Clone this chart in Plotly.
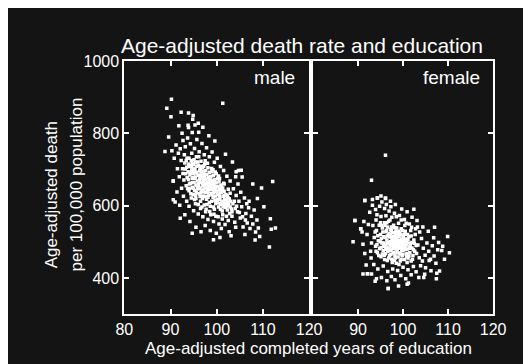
import plotly.graph_objects as go

# ---------------- data ----------------
male_points = [
    (92.6,702),(92.9,671),(93.1,718),(93.3,688),(93.4,655),(93.6,731),(93.8,694),(93.9,672),(94.0,641),(94.1,709),
    (94.2,685),(94.3,662),(94.5,725),(94.6,698),(94.7,676),(94.8,651),(94.9,631),(95.0,713),(95.0,688),(95.1,664),
    (95.2,642),(95.3,701),(95.4,679),(95.5,657),(95.5,620),(95.6,735),(95.7,692),(95.8,668),(95.9,646),(96.0,711),
    (96.0,684),(96.1,659),(96.2,633),(96.3,697),(96.3,672),(96.4,649),(96.5,612),(96.6,723),(96.6,688),(96.7,665),
    (96.8,641),(96.9,704),(96.9,676),(97.0,655),(97.0,627),(97.1,690),(97.2,668),(97.2,644),(97.3,602),(97.4,715),
    (97.4,681),(97.5,659),(97.5,636),(97.6,697),(97.7,672),(97.7,650),(97.8,618),(97.9,686),(98.0,663),(98.0,640),
    (98.1,705),(98.2,677),(98.2,654),(98.3,629),(98.4,692),(98.5,668),(98.5,645),(98.6,598),(98.7,681),(98.8,657),
    (98.8,634),(98.9,612),(99.0,694),(99.1,670),(99.1,648),(99.2,623),(99.3,683),(99.4,660),(99.4,637),(99.5,590),
    (99.6,672),(99.7,650),(99.7,627),(99.8,606),(99.9,688),(100.0,663),(100.0,640),(100.1,617),(100.2,676),(100.3,653),
    (100.3,631),(100.4,596),(100.5,667),(100.6,644),(100.7,621),(100.8,603),(100.9,657),(101.0,636),(101.1,612),(101.2,585),
    (101.3,649),(101.4,626),(101.5,604),(101.6,640),(101.7,618),(101.8,595),(102.0,631),(102.1,609),(102.3,588),(102.4,622),
    (102.6,600),(102.8,578),(103.0,612),(103.2,591),
    (93.5,706),(94.4,690),(95.3,676),(96.2,667),(97.1,639),(98.3,661),(99.0,630),(99.8,641),(100.6,628),(101.4,611),
    (94.9,701),(95.8,655),(96.5,681),(97.6,625),(98.6,675),(99.5,652),(100.2,608),(101.9,603),(96.8,694),(97.9,648),
    (95.1,727),(96.4,702),(97.3,685),(98.9,666),(100.8,640),(102.2,614),(94.1,660),(95.6,636),(96.9,620),(98.4,609),
    (93.0,741),(94.6,745),(95.9,721),(97.2,709),(99.2,699),(100.4,682),(101.6,660),(102.9,634),(103.5,605),(104.0,592),
    (92.7,689),(93.2,701),(93.6,677),(93.9,715),(94.2,648),(94.5,707),(94.8,664),(95.1,694),(95.4,629),(95.7,709),
    (96.0,652),(96.3,682),(96.6,637),(96.9,663),(97.2,693),(97.5,674),(97.8,661),(98.1,636),(98.4,677),(98.7,646),
    (99.0,661),(99.3,641),(99.6,615),(99.9,652),(100.2,631),(100.5,618),(100.8,590),(101.1,645),(101.4,597),(101.7,629),
    (102.0,598),(102.3,627),(102.6,609),(102.9,596),(103.3,583),(103.8,612),(104.3,598),(104.9,581),(105.6,569),(106.2,560),
    (93.4,725),(94.0,731),(94.7,717),(95.4,720),(96.1,735),(96.7,709),(97.5,724),(98.0,717),(98.9,703),(99.7,693),
    (100.6,675),(101.5,662),(102.5,645),(93.7,647),(94.4,633),(95.2,617),(96.0,603),(96.8,596),(97.7,590),(98.5,584),
    (99.4,576),(100.3,569),(101.3,575),(102.1,571),(95.0,648),(96.4,625),(97.9,603),(99.3,596),(100.9,606),(94.3,711),
    (95.6,690),(96.8,679),(98.6,651),(99.8,664),(101.0,650),(102.7,619),(97.3,654),(98.1,623),(96.1,648),(94.9,677),
    (90.3,752),(90.8,731),(91.2,768),(91.5,702),(91.7,745),(91.9,680),(92.1,757),(92.3,725),(92.4,648),(92.7,780),
    (92.8,626),(93.2,763),(93.5,612),(93.7,787),(94.0,598),(94.3,771),(94.5,621),(94.7,802),(95.0,586),(95.2,758),
    (95.4,605),(95.7,783),(96.0,577),(96.2,749),(96.5,592),(96.8,772),(97.0,569),(97.3,741),(97.6,583),(97.8,760),
    (98.1,562),(98.4,735),(98.7,575),(99.0,748),(99.3,556),(99.5,720),(99.8,571),(100.1,731),(100.5,549),(100.8,708),
    (101.2,563),(101.5,697),(101.8,548),(102.2,681),(102.5,559),(102.9,668),(103.3,571),(103.6,647),(103.9,554),(104.2,628),
    (104.5,583),(104.8,612),(105.1,566),(105.4,597),(105.7,541),(106.0,621),(106.3,578),(106.6,552),(106.9,594),(107.2,537),
    (107.5,571),(107.8,549),(108.1,588),(108.4,527),(108.7,560),(109.0,538),(109.3,515),(105.2,637),(106.5,605),(104.6,660),
    (91.0,610),(91.4,638),(90.6,668),(92.0,601),(93.1,575),(94.2,556),(95.5,540),(96.6,528),(97.5,545),(98.6,531),
    (99.9,524),(101.0,537),(102.7,528),(104.1,540),(103.1,517),(100.7,512),(96.1,803),(97.0,817),(95.3,823),(93.9,816),
    (98.3,793),(99.6,779),(92.5,800),(94.8,839),(91.8,821),(101.9,742),(103.4,721),(104.7,697),(105.5,679),(107.0,612),
    (90.2,894),(89.2,869),(90.1,846),(92.3,858),(93.9,856),(94.9,849),(101.3,883),(96.0,828),(93.8,822),(88.8,750),
    (112.1,667),(109.7,649),(111.4,486),(111.6,564),(111.8,535),(112.7,538),(104.2,694),(105.3,698),(104.1,680),(99.3,506),
    (94.7,524),(92.1,565),(90.6,616),(90.6,668),(108.8,620),(110.2,597),(107.8,660),(89.6,790),(108.3,505),(106.1,520),
]

female_points = [
    (93.6,512),(93.9,488),(94.1,531),(94.3,470),(94.5,503),(94.7,546),(94.8,481),(95.0,520),(95.1,459),(95.3,497),
    (95.4,538),(95.6,476),(95.7,514),(95.9,553),(96.0,490),(96.1,467),(96.2,528),(96.4,505),(96.5,448),(96.6,541),
    (96.7,483),(96.8,518),(97.0,462),(97.0,499),(97.1,560),(97.2,534),(97.3,476),(97.4,511),(97.5,452),(97.6,493),
    (97.7,526),(97.8,470),(97.9,546),(98.0,505),(98.1,484),(98.2,461),(98.3,521),(98.4,497),(98.5,441),(98.6,538),
    (98.7,478),(98.8,512),(98.9,458),(99.0,491),(99.1,529),(99.2,469),(99.3,503),(99.4,447),(99.5,485),(99.6,519),
    (99.8,462),(99.9,496),(100.0,475),(100.1,512),(100.3,451),(100.4,488),(100.5,529),(100.7,466),(100.8,500),(101.0,480),
    (101.1,455),(101.3,514),(101.5,470),(101.6,493),(101.8,447),(102.0,483),(102.2,462),(102.4,505),(102.6,474),(102.9,490),
    (94.2,492),(95.2,509),(96.3,486),(97.2,500),(98.2,493),(99.2,482),(100.2,497),(96.9,523),(98.0,470),(99.7,508),
    (95.5,527),(96.6,473),(97.8,515),(98.6,487),(99.4,466),(100.6,479),(94.9,500),(96.0,545),(97.4,489),(98.9,502),
    (95.8,463),(97.1,481),(98.4,529),(99.8,490),(101.2,497),(93.8,527),(95.0,553),(96.8,557),(97.9,487),(98.3,455),
    (94.6,462),(95.9,451),(97.6,443),(99.1,437),(100.9,443),(102.1,452),(103.0,468),(103.3,491),(103.6,456),(102.7,520),
    (101.7,531),(100.4,545),(99.0,551),(97.5,568),(96.2,572),(95.1,570),(94.0,560),(93.3,545),(93.0,497),(92.8,474),
    (94.4,517),(95.1,484),(95.6,497),(96.0,512),(96.3,532),(96.7,496),(97.0,477),(97.3,521),(97.6,507),(97.9,498),
    (98.2,512),(98.5,480),(98.8,495),(99.1,514),(99.4,499),(99.7,476),(100.1,485),(100.5,508),(100.9,468),(101.4,482),
    (95.3,545),(96.4,553),(97.5,541),(98.7,523),(99.9,531),(101.0,520),(94.0,474),(95.4,466),(96.8,455),(98.1,449),
    (99.6,452),(100.8,459),(102.3,478),(101.9,498),(96.5,516),(97.1,492),(98.6,503),(99.5,492),(97.8,481),(96.2,479),
    (97.4,531),(98.1,539),(98.9,527),(99.6,536),(100.3,521),(101.1,507),(101.8,516),(97.0,514),(98.4,518),(99.3,524),
    (100.0,503),(100.7,491),(101.5,486),(102.5,496),(98.7,470),(99.9,464),(101.3,461),(97.3,465),(96.4,496),(95.7,488),
    (92.0,520),(92.3,548),(92.6,582),(92.9,455),(93.2,601),(93.5,437),(93.9,589),(94.2,575),(94.4,425),(94.8,598),
    (95.3,610),(95.6,433),(95.9,592),(96.3,603),(96.6,418),(96.9,585),(97.3,597),(97.7,425),(98.1,579),(98.5,569),
    (98.8,421),(99.2,573),(99.6,560),(100.0,430),(100.3,562),(100.7,551),(101.1,423),(101.4,549),(101.9,540),(102.3,432),
    (102.8,536),(103.2,541),(103.7,527),(104.1,509),(104.5,482),(104.9,463),(105.3,497),(105.7,474),(106.1,452),(106.5,489),
    (106.9,461),(107.3,441),(107.7,478),(104.3,447),(103.9,434),(105.0,428),(106.2,420),(107.5,413),(91.5,468),(91.1,493),
    (91.8,436),(90.9,527),(91.3,556),(92.1,412),(93.0,411),(94.1,398),(95.2,401),(96.4,392),(97.4,404),(98.2,395),
    (99.5,407),(100.6,398),(101.8,409),(102.9,417),(103.5,401),(104.8,410),(90.6,536),(89.3,559),(91.5,614),(93.2,617),
    (94.3,621),(95.1,627),(96.1,620),(97.2,612),(98.3,603),(99.7,591),(100.9,583),(102.0,568),(103.1,559),(104.4,541),
    (105.6,529),(106.8,511),(107.9,498),(108.6,476),(109.2,452),(105.8,448),(104.6,401),(101.2,386),(99.0,378),(96.7,371),
    (96.1,739),(93.0,670),(89.3,559),(90.6,536),(109.9,515),(108.8,488),(96.7,371),(100.9,383),(93.8,391),(91.1,411),
    (92.1,412),(107.4,398),(108.1,419),(91.5,614),(94.3,621),(96.1,621),(110.3,470),(88.9,500),(107.0,540),(102.4,590),
]

x_tick_values = [80, 90, 100, 110, 120]
x_tick_text_left = ["80", "90", "100", "110", "120"]
x_tick_text_right = ["", "90", "100", "110", "120"]
y_tick_values = [400, 600, 800, 1000]
y_tick_text = ["400", "600", "800", "1000"]

title_text = "Age-adjusted death rate and education"
x_title = "Age-adjusted completed years of education"
y_title_1 = "Age-adjusted death"
y_title_2 = "per 100,000 population"
panel_labels = ["male", "female"]

# ---------------- figure ----------------
# the page's default body margin places the figure 8px in from the window's
# top-left corner; OX/OY compensate so window positions match the reference
OX, OY = 8, 8
W, H = 531 - OX, 364 - OY
BG = "#141414"
FONT = "Liberation Sans, Arial, sans-serif"


def px_x(p):
    return (p - OX) / W


def px_y(p):
    return 1 - (p - OY) / H


fig = go.Figure()
marker = dict(color="white", size=3.5, symbol="square", line=dict(width=0))
fig.add_trace(go.Scatter(x=[p[0] for p in male_points], y=[p[1] for p in male_points],
                         mode="markers", marker=marker, xaxis="x", yaxis="y", showlegend=False))
fig.add_trace(go.Scatter(x=[p[0] for p in female_points], y=[p[1] for p in female_points],
                         mode="markers", marker=marker, xaxis="x2", yaxis="y2", showlegend=False))

axis_common = dict(showgrid=False, zeroline=False, showline=True, linecolor="white", linewidth=2,
                   mirror="ticks", ticks="inside", ticklen=5, tickwidth=2, tickcolor="white",
                   tickfont=dict(color="white", size=16, family=FONT))

ydom = [px_y(313), px_y(54)]
fig.update_layout(
    width=W, height=H,
    margin=dict(l=0, r=0, t=0, b=0),
    paper_bgcolor=BG,
    plot_bgcolor=BG,
    xaxis=dict(domain=[px_x(120), px_x(313)], range=[80, 120], tickvals=x_tick_values,
               ticktext=x_tick_text_left, anchor="y", **axis_common),
    xaxis2=dict(domain=[px_x(317), px_x(505)], range=[80, 120], tickvals=x_tick_values,
                ticktext=x_tick_text_right, anchor="y2", **axis_common),
    yaxis=dict(domain=ydom, range=[300, 1000], tickvals=y_tick_values, ticktext=y_tick_text,
               anchor="x", **axis_common),
    yaxis2=dict(domain=ydom, range=[300, 1000], tickvals=y_tick_values, showticklabels=False,
                anchor="x2", **axis_common),
    annotations=[
        dict(text=title_text, x=px_x(306), y=px_y(38), xref="paper", yref="paper",
             showarrow=False, xanchor="center", yanchor="middle",
             font=dict(color="white", size=21, family=FONT)),
        dict(text=x_title, x=px_x(312), y=px_y(348), xref="paper", yref="paper",
             showarrow=False, xanchor="center", yanchor="middle",
             font=dict(color="white", size=17, family=FONT)),
        dict(text=y_title_1, x=px_x(44), y=px_y(191), xref="paper", yref="paper",
             showarrow=False, xanchor="center", yanchor="middle", textangle=-90,
             font=dict(color="white", size=17, family=FONT)),
        dict(text=y_title_2, x=px_x(70), y=px_y(180), xref="paper", yref="paper",
             showarrow=False, xanchor="center", yanchor="middle", textangle=-90,
             font=dict(color="white", size=17, family=FONT)),
        dict(text=panel_labels[0], x=px_x(300), y=px_y(71), xref="paper", yref="paper",
             showarrow=False, xanchor="right", yanchor="middle",
             font=dict(color="white", size=19, family=FONT)),
        dict(text=panel_labels[1], x=px_x(493), y=px_y(71), xref="paper", yref="paper",
             showarrow=False, xanchor="right", yanchor="middle",
             font=dict(color="white", size=19, family=FONT)),
    ],
)

fig.write_html("out.html")
